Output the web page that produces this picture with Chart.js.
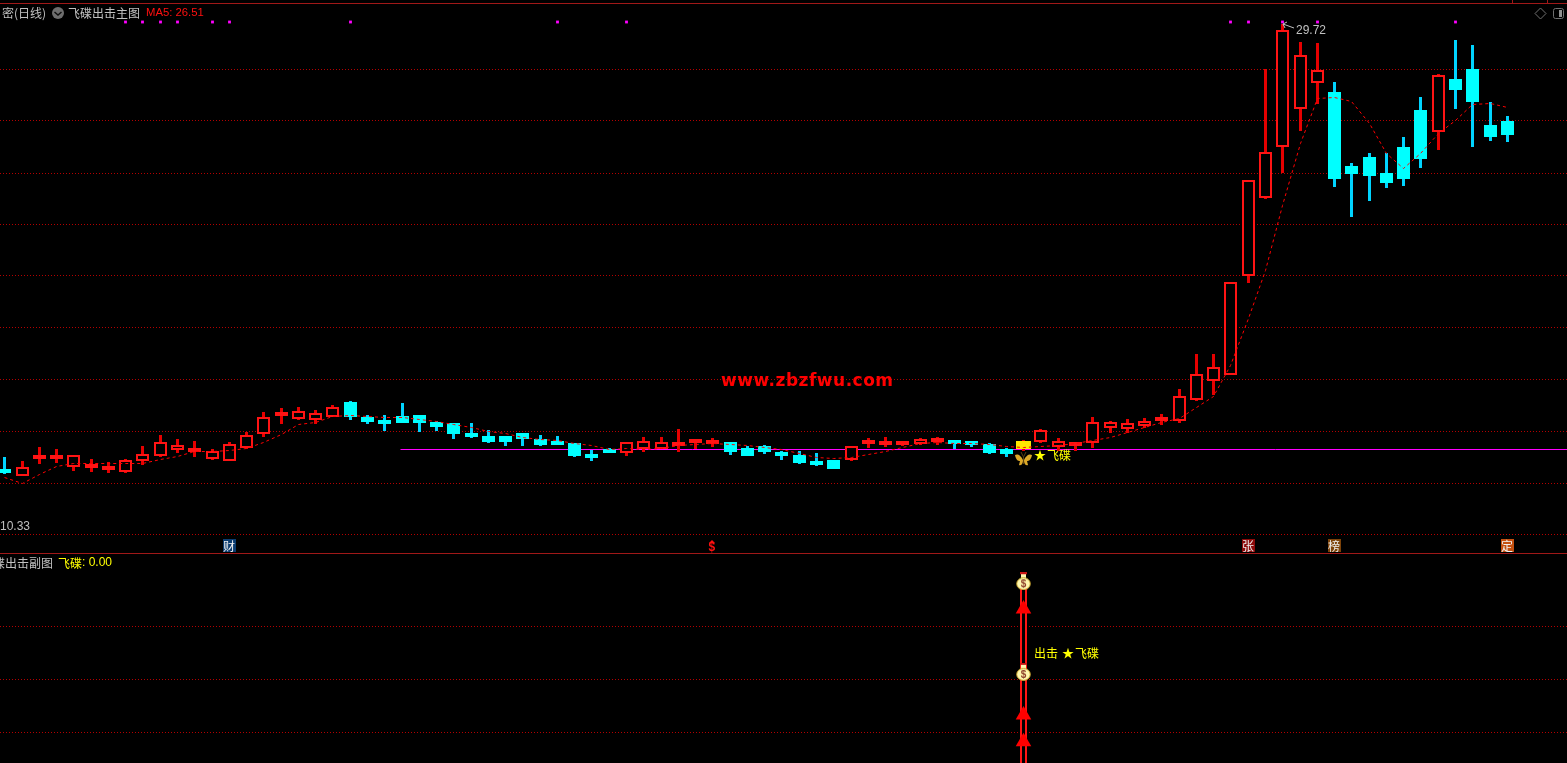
<!DOCTYPE html>
<html>
<head>
<meta charset="utf-8">
<title>飞碟出击</title>
<script src="https://cdn.jsdelivr.net/npm/chart.js@4/dist/chart.umd.min.js"></script>
<style>
  html, body { margin: 0; padding: 0; background: #000; overflow: hidden; }
  #main, #sub { position: absolute; left: 0; display: block; }
  #main { top: 0; }
  #sub { top: 553px; }
</style>
</head>
<body>
<canvas id="main" width="1567" height="553"></canvas>
<canvas id="sub" width="1567" height="210"></canvas>
<script>
let opens = [12.49,12.30,12.96,12.96,12.65,12.61,12.53,12.45,12.88,13.07,13.30,13.23,12.96,12.88,13.38,13.92,14.61,14.50,14.46,14.57,
    15.15,14.57,14.46,14.61,14.65,14.38,14.34,13.96,13.84,13.84,13.96,13.73,13.61,13.57,13.15,13.23,13.19,13.34,13.34,13.46,
    13.57,13.53,13.61,13.38,13.46,13.23,13.11,12.84,12.92,12.92,13.53,13.50,13.50,13.53,13.61,13.57,13.57,13.53,13.34,13.34,
    13.61,13.42,13.46,13.57,14.15,14.11,14.23,14.42,14.42,15.23,15.96,16.19,20.01,23.02,24.98,26.45,27.45,27.10,24.25,24.60,
    23.98,24.98,26.41,25.56,27.60,27.99,25.83,25.98],
    closes = [12.42,12.65,13.11,13.11,13.11,12.65,12.61,12.92,13.15,13.61,13.50,13.34,13.26,13.53,13.88,14.57,14.65,14.81,14.73,14.96,
    14.57,14.38,14.30,14.34,14.34,14.19,13.92,13.80,13.61,13.61,13.73,13.50,13.50,13.07,12.99,13.19,13.61,13.65,13.61,13.57,
    13.69,13.65,13.23,13.07,13.23,13.07,12.80,12.72,12.57,13.46,13.69,13.65,13.61,13.73,13.77,13.53,13.50,13.19,13.15,13.65,
    14.07,13.65,13.53,14.38,14.38,14.34,14.42,14.54,15.38,16.23,16.50,19.78,23.71,24.79,29.49,28.53,27.95,23.75,23.94,23.87,
    23.60,23.75,24.52,27.76,27.18,26.72,25.37,25.45],
    highs = [13.03,12.88,13.42,13.34,13.11,12.96,12.84,12.96,13.46,13.88,13.73,13.65,13.34,13.61,14.00,14.77,14.92,14.96,14.84,15.04,
    15.19,14.65,14.65,15.11,14.65,14.42,14.34,14.34,14.07,13.84,13.96,13.88,13.84,13.57,13.30,13.38,13.61,13.80,13.80,14.11,
    13.69,13.77,13.61,13.46,13.50,13.26,13.26,13.19,12.92,13.46,13.77,13.80,13.65,13.77,13.80,13.65,13.61,13.57,13.38,13.69,
    14.11,13.77,13.61,14.57,14.42,14.50,14.54,14.69,15.65,17.00,17.00,19.78,23.71,27.99,29.72,29.03,28.99,27.49,24.37,24.75,
    24.75,25.37,26.91,27.80,29.11,28.92,26.72,26.18],
    lows = [12.38,12.30,12.76,12.80,12.49,12.45,12.42,12.42,12.72,13.03,13.19,13.03,12.92,12.88,13.34,13.80,14.30,14.46,14.30,14.57,
    14.46,14.30,14.03,14.34,14.00,14.03,13.73,13.77,13.57,13.46,13.46,13.46,13.50,13.03,12.88,13.19,13.07,13.23,13.34,13.23,
    13.34,13.42,13.11,13.07,13.15,12.92,12.76,12.69,12.57,12.88,13.38,13.42,13.46,13.50,13.50,13.34,13.42,13.15,13.03,13.26,
    13.57,13.26,13.26,13.38,13.96,13.96,14.15,14.27,14.34,15.19,15.42,16.19,19.74,22.98,23.98,25.60,26.64,23.44,22.28,22.90,
    23.40,23.48,24.17,24.87,26.45,24.98,25.21,25.18],
    ma5 = [12.26,12.03,12.38,12.69,12.80,12.80,12.80,12.80,12.80,12.96,13.07,13.26,13.26,13.30,13.38,13.61,13.92,14.30,14.38,14.61,
    14.65,14.61,14.57,14.57,14.50,14.42,14.30,14.19,14.03,13.96,13.80,13.73,13.69,13.57,13.50,13.34,13.38,13.34,13.38,13.50,
    13.53,13.57,13.53,13.50,13.42,13.34,13.19,13.03,12.99,13.03,13.15,13.26,13.42,13.57,13.61,13.57,13.57,13.53,13.46,13.42,
    13.46,13.50,13.57,13.69,13.80,14.00,14.19,14.38,14.54,14.96,15.38,16.58,18.39,20.24,22.75,25.14,26.87,26.91,26.76,25.91,
    24.75,24.17,24.75,25.52,26.02,26.64,26.68,26.51],
    topMarks = [7,8,9,10,12,13,20,32,36,71,72,74,76,84],
    gridLevels = [27.98,26.01,23.99,22.00,20.04,18.03,16.03,14.02,12.04,10.05],
    subLevels = [3,2,1],
    signalIndex = 59,
    refLine = 13.34,
    topMarkLevel = 29.80,
    butterflyLevel = 12.96,
    badgeIndex = [13,41,72,77,87],
    badgeText = ['财','$','张','榜','定'],
    badgeColor = ['#0b3c70','transparent','#8c0a0a','#7d4208','#c45010'],
    subColumn = [0,3.78],
    subArrows = [3.32,1.33,0.83],
    subBags = [3.84,2.14];

const RED = '#ff1414', WICK_RED = '#e60000', CYAN = '#00ffff', WICK_CYAN = '#00d4ff',
    YELLOW = '#ffff00', GRID = '#b40000';
const FONT_CN = '12px "Noto Sans CJK SC"', FONT_NUM = '12px "Liberation Sans"';
const xMin = -0.249, xMax = 90.487;

// candles sit on whole pixels, same as the terminal draws them
function snapPixels(scale, shift) {
    if (scale.$snapped) return;
    scale.$snapped = true;
    const getPixel = scale.getPixelForValue;
    scale.getPixelForValue = (v, i) => Math.round(getPixel.call(scale, v, i)) + shift;
}

function makeIcon(w, h, paint) {
    const c = document.createElement('canvas');
    c.width = w;
    c.height = h;
    paint(c.getContext('2d'));
    return c;
}

const bagIcon = makeIcon(15, 18, (g) => {
    g.fillStyle = '#c81414';
    g.fillRect(4, 0, 7, 2);
    g.fillStyle = '#fff8b0';
    g.fillRect(5, 2, 5, 4);
    g.beginPath();
    g.ellipse(7.5, 11.5, 6.8, 6, 0, 0, Math.PI * 2);
    g.fill();
    g.strokeStyle = '#c8a028';
    g.lineWidth = 1;
    g.stroke();
    g.fillStyle = '#8c3c28';
    g.font = 'bold 10px "Liberation Sans"';
    g.textAlign = 'center';
    g.textBaseline = 'middle';
    g.fillText('$', 7.5, 12);
});

const butterflyIcon = makeIcon(17, 14, (g) => {
    g.fillStyle = '#dca828';
    g.beginPath();
    g.moveTo(8, 8);
    g.bezierCurveTo(5, 2, 2, 2, 0, 3);
    g.bezierCurveTo(1, 8, 3, 9, 5, 9);
    g.lineTo(4, 13);
    g.bezierCurveTo(7, 14, 8, 11, 8, 8);
    g.fill();
    g.beginPath();
    g.moveTo(9, 8);
    g.bezierCurveTo(12, 2, 15, 2, 17, 3);
    g.bezierCurveTo(16, 8, 14, 9, 12, 9);
    g.lineTo(13, 13);
    g.bezierCurveTo(10, 14, 9, 11, 9, 8);
    g.fill();
    g.strokeStyle = '#5a4010';
    g.beginPath();
    g.moveTo(8.5, 12);
    g.lineTo(8.5, 5);
    g.lineTo(6, 0);
    g.moveTo(8.5, 5);
    g.lineTo(11, 0);
    g.stroke();
});

function isUp(i) {
    return closes[i] >= opens[i];
}

let candleIdx = opens.map((v, i) => i).filter((i) => i != signalIndex),
    wickData = opens.map((v, i) => ({ x: i, y: [lows[i], highs[i]] })),
    bodyData = candleIdx.map((i) => ({ x: i, y: [opens[i], closes[i]] })),
    maData = ma5.map((v, i) => ({ x: i, y: v }));

function writeText(ctx, list) {
    ctx.save();
    ctx.textBaseline = 'middle';
    ctx.textAlign = 'left';
    list.forEach((t) => {
        ctx.font = t[4] || FONT_CN;
        ctx.fillStyle = t[3];
        ctx.letterSpacing = t[5] || '0px';
        ctx.fillText(t[0], t[1], t[2]);
    });
    ctx.restore();
}

const mainTexts = [
    ['密(日线)', 2, 13, '#c0c0c0'],
    ['飞碟出击主图', 68, 13, '#c0c0c0'],
    ['MA5: 26.51', 146, 13, '#ff1010', '11.3px "Liberation Sans"'],
    ['29.72', 1296, 31, '#c0c0c0', FONT_NUM],
    ['10.33', 0, 527, '#c0c0c0', FONT_NUM],
    ['www.zbzfwu.com', 721, 382, '#ff0000', 'bold 17px "DejaVu Sans"', '0.5px'],
    ['★', 1034, 455, YELLOW],
    ['飞碟', 1047, 455, YELLOW]
];

const mainDecor = {
    id: 'mainDecor',
    afterDraw(chart) {
        const ctx = chart.ctx, x = chart.scales.x;
        ctx.save();
        // top frame
        ctx.fillStyle = '#a01818';
        ctx.fillRect(0, 3, 1567, 1);
        ctx.fillRect(1512, 0, 1, 3);
        ctx.fillRect(1547, 0, 1, 3);
        // high price pointer
        ctx.strokeStyle = '#c0c0c0';
        ctx.lineWidth = 1;
        ctx.beginPath();
        ctx.moveTo(1294, 28);
        ctx.lineTo(1283, 24);
        ctx.moveTo(1283, 24);
        ctx.lineTo(1287, 22);
        ctx.moveTo(1283, 24);
        ctx.lineTo(1285, 28);
        ctx.stroke();
        // header button
        ctx.fillStyle = '#6e6e6e';
        ctx.beginPath();
        ctx.arc(58, 13, 6, 0, Math.PI * 2);
        ctx.fill();
        ctx.strokeStyle = '#101010';
        ctx.lineWidth = 1.5;
        ctx.beginPath();
        ctx.moveTo(54.5, 12);
        ctx.lineTo(58, 15);
        ctx.lineTo(61.5, 12);
        ctx.stroke();
        // right corner icons
        ctx.strokeStyle = '#707070';
        ctx.lineWidth = 1;
        ctx.beginPath();
        ctx.moveTo(1540.5, 8);
        ctx.lineTo(1546, 13.5);
        ctx.lineTo(1540.5, 19);
        ctx.lineTo(1535, 13.5);
        ctx.closePath();
        ctx.stroke();
        ctx.beginPath();
        ctx.roundRect(1553.5, 8.5, 10, 10, 2);
        ctx.stroke();
        ctx.fillStyle = '#909090';
        ctx.fillRect(1559, 10, 3, 7);
        // bottom news badges
        badgeIndex.forEach((idx, i) => {
            const px = Math.floor(x.getPixelForValue(idx));
            if (badgeColor[i] != 'transparent') {
                ctx.fillStyle = badgeColor[i];
                ctx.fillRect(px - 6, 539, 13, 13);
            } else {
                // plain marker has a small tip above the sign
                ctx.fillStyle = '#ff1010';
                ctx.beginPath();
                ctx.moveTo(px, 540);
                ctx.lineTo(px + 3, 543);
                ctx.lineTo(px - 3, 543);
                ctx.fill();
            }
        });
        ctx.restore();
        writeText(ctx, mainTexts);
        badgeIndex.forEach((idx, i) => {
            const px = Math.floor(x.getPixelForValue(idx));
            const isBadge = badgeColor[i] != 'transparent';
            writeText(ctx, [[badgeText[i], px - (isBadge ? 6 : 3.5), isBadge ? 546 : 548, isBadge ? '#f0f0f0' : '#ff1010', isBadge ? FONT_CN : 'bold 12px "Liberation Sans"']]);
        });
    }
};

new Chart(document.getElementById('main'), {
    type: 'bar',
    data: {
        datasets: [
            {
                label: 'ref',
                type: 'line',
                yAxisID: 'yLine',
                data: [{ x: 22.9, y: refLine }, { x: xMax, y: refLine }],
                borderColor: '#ff00ff',
                borderWidth: 1,
                pointRadius: 0,
                order: 4
            },
            {
                label: 'wick',
                data: wickData,
                barThickness: 3,
                backgroundColor: opens.map((v, i) => (isUp(i) ? WICK_RED : WICK_CYAN)),
                order: 3
            },
            {
                label: 'body',
                data: bodyData,
                barThickness: 13,
                backgroundColor: candleIdx.map((i) => (isUp(i) ? '#000' : CYAN)),
                borderColor: candleIdx.map((i) => (isUp(i) ? RED : CYAN)),
                borderWidth: 2,
                borderSkipped: false,
                minBarLength: 4,
                order: 2
            },
            {
                label: 'signal',
                data: [{ x: signalIndex, y: [opens[signalIndex], closes[signalIndex]] }],
                barThickness: 15,
                backgroundColor: '#ffe800',
                order: 2
            },
            {
                label: 'MA5',
                type: 'line',
                yAxisID: 'yLine',
                data: maData,
                borderColor: '#ff0000',
                borderWidth: 1,
                borderDash: [3, 3],
                pointRadius: 0,
                tension: 0,
                order: 1
            },
            {
                label: 'marks',
                type: 'line',
                showLine: false,
                data: topMarks.map((i) => ({ x: i, y: topMarkLevel })),
                pointStyle: 'rect',
                pointRadius: 2,
                pointBackgroundColor: '#ff00ff',
                pointBorderWidth: 0,
                order: 0
            },
            {
                label: 'butterfly',
                type: 'line',
                showLine: false,
                data: [{ x: signalIndex, y: butterflyLevel }],
                pointStyle: butterflyIcon,
                order: 0
            }
        ]
    },
    options: {
        responsive: false,
        animation: false,
        events: [],
        layout: { padding: 0, autoPadding: false },
        datasets: { bar: { grouped: false, inflateAmount: 0 } },
        plugins: { legend: { display: false }, tooltip: { enabled: false } },
        scales: {
            x: {
                type: 'linear',
                offset: false,
                min: xMin,
                max: xMax,
                display: false,
                afterUpdate: (s) => snapPixels(s, 0.5)
            },
            y: {
                min: 9.33,
                max: 30.65,
                ticks: { display: false },
                border: { display: false, dash: [1, 2] },
                grid: { color: GRID, drawTicks: false },
                afterFit: (s) => { s.width = 0; },
                afterBuildTicks: (s) => { s.ticks = gridLevels.map((v) => ({ value: v })); },
                afterUpdate: (s) => snapPixels(s, 0)
            },
            // same range as y, only for the 1px lines
            yLine: {
                min: 9.33,
                max: 30.65,
                display: false,
                afterUpdate: (s) => snapPixels(s, 0.5)
            }
        }
    },
    plugins: [mainDecor]
});

const subTexts = [
    ['碟出击副图', -7, 10, '#c0c0c0'],
    ['飞碟', 58, 10, YELLOW],
    [': 0.00', 82, 10, YELLOW, FONT_NUM],
    ['出击', 1034, 100, YELLOW],
    ['★', 1062, 100, YELLOW],
    ['飞碟', 1075, 100, YELLOW]
];

new Chart(document.getElementById('sub'), {
    type: 'bar',
    data: {
        datasets: [
            {
                label: 'column',
                data: [{ x: signalIndex, y: subColumn }],
                barThickness: 7,
                backgroundColor: '#000',
                borderColor: '#ff1414',
                borderWidth: 2,
                borderSkipped: false,
                order: 2
            },
            {
                label: 'arrows',
                type: 'line',
                showLine: false,
                data: subArrows.map((v) => ({ x: signalIndex, y: v })),
                pointStyle: 'triangle',
                pointRadius: 9,
                pointBackgroundColor: '#ff0000',
                pointBorderWidth: 0,
                order: 1
            },
            {
                label: 'bags',
                type: 'line',
                showLine: false,
                data: subBags.map((v) => ({ x: signalIndex, y: v })),
                pointStyle: bagIcon,
                order: 0
            }
        ]
    },
    options: {
        responsive: false,
        animation: false,
        events: [],
        layout: { padding: 0, autoPadding: false },
        datasets: { bar: { grouped: false, inflateAmount: 0 } },
        plugins: { legend: { display: false }, tooltip: { enabled: false } },
        scales: {
            x: {
                type: 'linear',
                offset: false,
                min: xMin,
                max: xMax,
                display: false,
                afterUpdate: (s) => snapPixels(s, 0.5)
            },
            y: {
                min: 0.43,
                max: 4.37,
                ticks: { display: false },
                border: { display: false, dash: [1, 2] },
                grid: { color: GRID, drawTicks: false },
                afterFit: (s) => { s.width = 0; },
                afterBuildTicks: (s) => { s.ticks = subLevels.map((v) => ({ value: v })); }
            }
        }
    },
    plugins: [{
        id: 'subDecor',
        afterDraw(chart) {
            chart.ctx.fillStyle = '#a01818';
            chart.ctx.fillRect(0, 0, 1567, 1);
            writeText(chart.ctx, subTexts);
        }
    }]
});
</script>
</body>
</html>
